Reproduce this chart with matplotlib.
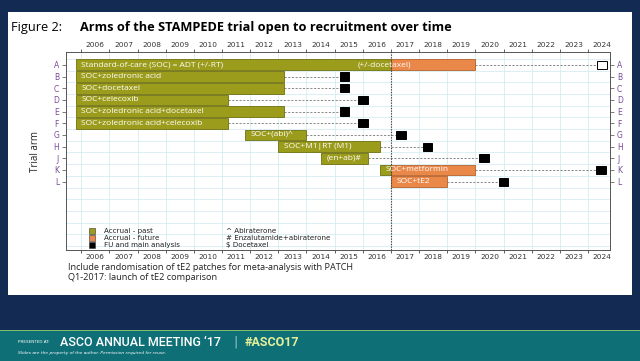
import numpy as np
import matplotlib.pyplot as plt
from matplotlib.patches import Rectangle

# arms of the trial and their timelines (years)
arms = ['A', 'B', 'C', 'D', 'E', 'F', 'G', 'H', 'J', 'K', 'L']
arm_names = ['Standard-of-care (SOC) = ADT (+/-RT)', 'SOC+zoledronic acid', 'SOC+docetaxel',
             'SOC+celecoxib', 'SOC+zoledronic acid+docetaxel', 'SOC+zoledronic acid+celecoxib',
             'SOC+(abi)^', 'SOC+M1|RT (M1)', '(en+ab)#', 'SOC+metformin', 'SOC+tE2']
past_start = [2005.8, 2005.8, 2005.8, 2005.8, 2005.8, 2005.8, 2011.8, 2013.0, 2014.5, 2016.6, np.nan]
past_end = [2017.0, 2013.2, 2013.2, 2011.2, 2013.2, 2011.2, 2014.0, 2016.6, 2016.2, 2017.0, np.nan]
future_start = [2017.0, np.nan, np.nan, np.nan, np.nan, np.nan, np.nan, np.nan, np.nan, 2017.0, 2017.0]
future_end = [2020.0, np.nan, np.nan, np.nan, np.nan, np.nan, np.nan, np.nan, np.nan, 2020.0, 2019.0]
analysis = [2024.5, 2015.35, 2015.35, 2016.0, 2015.35, 2016.0, 2017.35, 2018.3, 2020.3, 2024.45, 2021.0]
analysis_open = [True, False, False, False, False, False, False, False, False, False, False]
years = list(range(2006, 2025))
tE2_launch = 2017.0

green = '#9c9c1c'
orange = '#ea884a'
navy = '#132b52'
purple = '#7a4a9a'

fig = plt.figure(figsize=(6.4, 3.61), dpi=100)
fig.patch.set_facecolor(navy)
W, H = 640, 361

def fx(px):
    return px / W

def fy(py):
    return 1 - py / H

# white slide panel
fig.patches.append(Rectangle((fx(8), fy(295)), fx(632) - fx(8), fy(12) - fy(295),
                             transform=fig.transFigure, facecolor='white', edgecolor='none', zorder=-10))
# bottom banner
fig.patches.append(Rectangle((0, 0), 1, fy(331), transform=fig.transFigure,
                             facecolor='#0f6f77', edgecolor='none', zorder=-10))
fig.patches.append(Rectangle((0, fy(331)), 1, 1.5 / H, transform=fig.transFigure,
                             facecolor='#7cc06a', edgecolor='none', zorder=-10))

fig.text(fx(11), fy(27), 'Figure 2:', fontsize=9.2, family='Open Sans', va='center', color='black')
fig.text(fx(80), fy(27), 'Arms of the STAMPEDE trial open to recruitment over time', fontsize=9.2,
         family='Open Sans', fontweight='bold', va='center', color='black')

ax = fig.add_axes([fx(66), fy(250), fx(610) - fx(66), fy(52) - fy(250)])
ax.set_facecolor('white')
ypos = np.arange(len(arms))
bh = 0.92

ax.barh(ypos, np.array(past_end) - np.array(past_start), left=past_start, height=bh,
        color=green, edgecolor='#6f6f10', linewidth=0.6, zorder=3)
ax.barh(ypos, np.array(future_end) - np.array(future_start), left=future_start, height=bh,
        color=orange, edgecolor='#b5602a', linewidth=0.6, zorder=3)

for i in range(len(arms)):
    bar_end = np.nanmax([past_end[i], future_end[i]])
    ax.plot([bar_end, analysis[i] - 0.17], [i, i], ls=(0, (2.2, 1.6)), color='#888888', lw=0.7, zorder=2)
    ax.barh(i, 0.35, left=analysis[i] - 0.175, height=0.7,
            color='white' if analysis_open[i] else 'black', edgecolor='black', linewidth=0.7, zorder=4)
    start = past_start[i] if not np.isnan(past_start[i]) else future_start[i]
    ax.text(start + 0.2, i, arm_names[i], color='white', fontsize=6, family='Open Sans',
            va='center', ha='left', zorder=5)
ax.text(2015.8, 0, '(+/-docetaxel)', color='white', fontsize=6, family='Open Sans',
        va='center', ha='left', zorder=5)

ax.axvline(tE2_launch, color='#444444', ls=(0, (1.2, 1.2)), lw=0.8, zorder=4)

ax.set_xlim(2005.46, 2024.78)
ax.set_ylim(15.85, -1.1)

ax.set_xticks(years)
ax.set_xticks([y + 0.5 for y in years], minor=True)
ax.set_xticklabels([])
ax.set_xticklabels([str(y) for y in years], minor=True)
ax.tick_params(axis='x', which='major', length=2, width=0.6, top=True, bottom=True, color='#444444')
ax.tick_params(axis='x', which='minor', length=0, labelsize=5.3, labeltop=True, labelbottom=True,
               labelcolor='#333333', pad=3)
ax.set_yticks(ypos)
ax.set_yticklabels(arms)
ax.set_yticks(np.arange(-0.5, 16, 1), minor=True)
ax.tick_params(axis='y', which='major', length=3, width=0.6, left=True, right=True, labelleft=True,
               labelright=True, labelsize=5.5, labelcolor=purple, color='#666666', pad=2)
ax.tick_params(axis='y', which='minor', length=0)
ax.grid(True, which='major', axis='x', color='#d6ecf1', lw=0.6, zorder=0)
ax.grid(True, which='minor', axis='y', color='#d6ecf1', lw=0.6, zorder=0)
for s in ax.spines.values():
    s.set_color('#555555')
    s.set_linewidth(0.7)
ax.set_ylabel('Trial arm', fontsize=7, family='Open Sans', color='#222222', labelpad=9)

# legend block
leg_items = [('Accrual - past', green), ('Accrual - future', orange), ('FU and main analysis', 'black')]
leg_y = [14.2, 14.8, 15.4]
for (lab, c), yy in zip(leg_items, leg_y):
    ax.plot([2006.4], [yy], marker='s', ms=3.8, color=c, mec='#333333', mew=0.4, zorder=5)
    ax.text(2006.8, yy, lab, fontsize=5.1, va='center', color='#222222')
notes = ['^ Abiraterone', '# Enzalutamide+abiraterone', '$ Docetaxel']
for lab, yy in zip(notes, leg_y):
    ax.text(2011.15, yy, lab, fontsize=5.1, va='center', color='#222222')

fig.text(fx(68), fy(268), 'Include randomisation of tE2 patches for meta-analysis with PATCH',
         fontsize=6.6, family='Open Sans', va='center', color='#222222')
fig.text(fx(68), fy(277), 'Q1-2017: launch of tE2 comparison',
         fontsize=6.6, family='Open Sans', va='center', color='#222222')

# banner text
fig.text(fx(18), fy(342), 'PRESENTED AT:', fontsize=3, color='white', va='center')
fig.text(fx(60), fy(342), "ASCO ANNUAL MEETING \u201817", fontsize=9, color='white',
         va='center', family='Roboto', fontweight='medium')
fig.text(fx(233), fy(342), '|', fontsize=9, color='#9fc9c9', va='center')
fig.text(fx(245), fy(342), '#ASCO17', fontsize=9, color='#e5ef9a', va='center', fontweight='bold',
         family='Roboto')
fig.text(fx(18), fy(353), 'Slides are the property of the author. Permission required for reuse.',
         fontsize=3.2, color='white', va='center', style='italic')

fig.savefig('out.png', dpi=100, facecolor=fig.get_facecolor())
